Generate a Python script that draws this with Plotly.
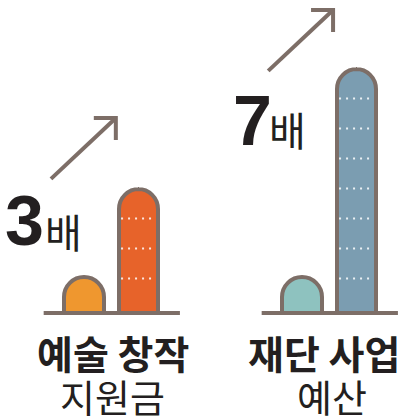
import plotly.graph_objects as go

# ---- data ----
groups_bold = ["예술 창작", "재단 사업"]
groups_sub = ["지원금", "예산"]
multipliers = ["3", "7"]
multiplier_unit = "배"
small_vals = [1.2, 1.2]          # before (height, in 30px units)
tall_vals = [4.13, 8.13]         # after
dot_levels_1 = [1.15, 2.15, 3.15]
dot_levels_2 = [1.15, 2.15, 3.15, 4.15, 5.15, 6.15, 7.15]

# ---- style ----
small_x = [0, 4]
tall_x = [1, 5]
small_colors = ["#ef972f", "#8ec2bf"]
tall_colors = ["#e7632a", "#7b9db1"]
outline = "#7d6e67"
text_color = "#231f20"
W, H = 410, 417
XU, YU = 54.5, 30.0           # px per unit
X0PX, Y0PX = 84, 313          # pixel of x=0, y=0
xr = [-X0PX / XU, (W - X0PX) / XU]
yr = [-(H - Y0PX) / YU, Y0PX / YU]
bw = 0.716

fig = go.Figure()
fig.add_trace(go.Bar(
    x=small_x + tall_x, y=small_vals + tall_vals, width=bw,
    marker=dict(color=small_colors + tall_colors, cornerradius="50%",
                line=dict(color=outline, width=4)),
    hoverinfo="skip", showlegend=False))

# dotted lines inside tall bars
for cx, levels in zip(tall_x, [dot_levels_1, dot_levels_2]):
    xs, ys = [], []
    for lv in levels:
        xs += [cx - 0.32, cx + 0.32, None]
        ys += [lv, lv, None]
    fig.add_trace(go.Scatter(x=xs, y=ys, mode="lines",
                             line=dict(color="rgba(255,255,255,0.85)", width=2, dash="2px,5px"),
                             hoverinfo="skip", showlegend=False))

# baselines
for sx, tx in zip(small_x, tall_x):
    fig.add_trace(go.Scatter(x=[sx - 0.74, tx + 0.76], y=[0, 0], mode="lines",
                             line=dict(color=outline, width=4),
                             hoverinfo="skip", showlegend=False))

# arrows (tail/tip relative to the small bar position)
arrow_tail = [(-0.606, 4.47), (-0.62, 8.07)]
arrow_len = (1.19, 2.03)
head_dx, head_dy = 0.404, 0.733
for sx, (tx0, ty0) in zip(small_x, arrow_tail):
    x0, y0 = sx + tx0, ty0
    x1, y1 = x0 + arrow_len[0], y0 + arrow_len[1]
    fig.add_trace(go.Scatter(
        x=[x0, x1, None, x1 - head_dx, x1, x1],
        y=[y0, y1, None, y1, y1, y1 - head_dy],
        mode="lines", line=dict(color=outline, width=4),
        hoverinfo="skip", showlegend=False))

def px2paper(px, py):
    return px / W, 1 - py / H

ann = []
num_pos = [(24.5, 221), (252, 121)]
unit_pos = [(63, 231), (287.5, 129)]
title_pos = [(112.5, 352), (323.5, 352)]
sub_pos = [(112, 395), (332, 395)]
for i in range(2):
    x, y = px2paper(*num_pos[i])
    ann.append(dict(x=x, y=y, xref="paper", yref="paper", text=multipliers[i], showarrow=False,
                    font=dict(family="Liberation Sans", size=70, color=text_color, weight=900),
                    xanchor="center", yanchor="middle"))
    x, y = px2paper(*unit_pos[i])
    ann.append(dict(x=x, y=y, xref="paper", yref="paper", text=multiplier_unit, showarrow=False,
                    font=dict(family="Noto Sans CJK KR", size=40, color=text_color),
                    xanchor="center", yanchor="middle"))
    x, y = px2paper(*title_pos[i])
    ann.append(dict(x=x, y=y, xref="paper", yref="paper", text="<b>" + groups_bold[i] + "</b>", showarrow=False,
                    font=dict(family="Noto Sans CJK KR", size=39, color=text_color),
                    xanchor="center", yanchor="middle"))
    x, y = px2paper(*sub_pos[i])
    ann.append(dict(x=x, y=y, xref="paper", yref="paper", text=groups_sub[i], showarrow=False,
                    font=dict(family="Noto Sans CJK KR", size=38, color=text_color),
                    xanchor="center", yanchor="middle"))

fig.update_layout(
    width=W, height=H, margin=dict(l=0, r=0, t=0, b=0, pad=0),
    paper_bgcolor="white", plot_bgcolor="white",
    xaxis=dict(range=xr, visible=False, fixedrange=True),
    yaxis=dict(range=yr, visible=False, fixedrange=True),
    annotations=ann, bargap=0,
)
fig.write_html("out.html", config={"displayModeBar": False},
               post_script="document.body.style.margin='0';document.body.style.overflow='hidden';")
